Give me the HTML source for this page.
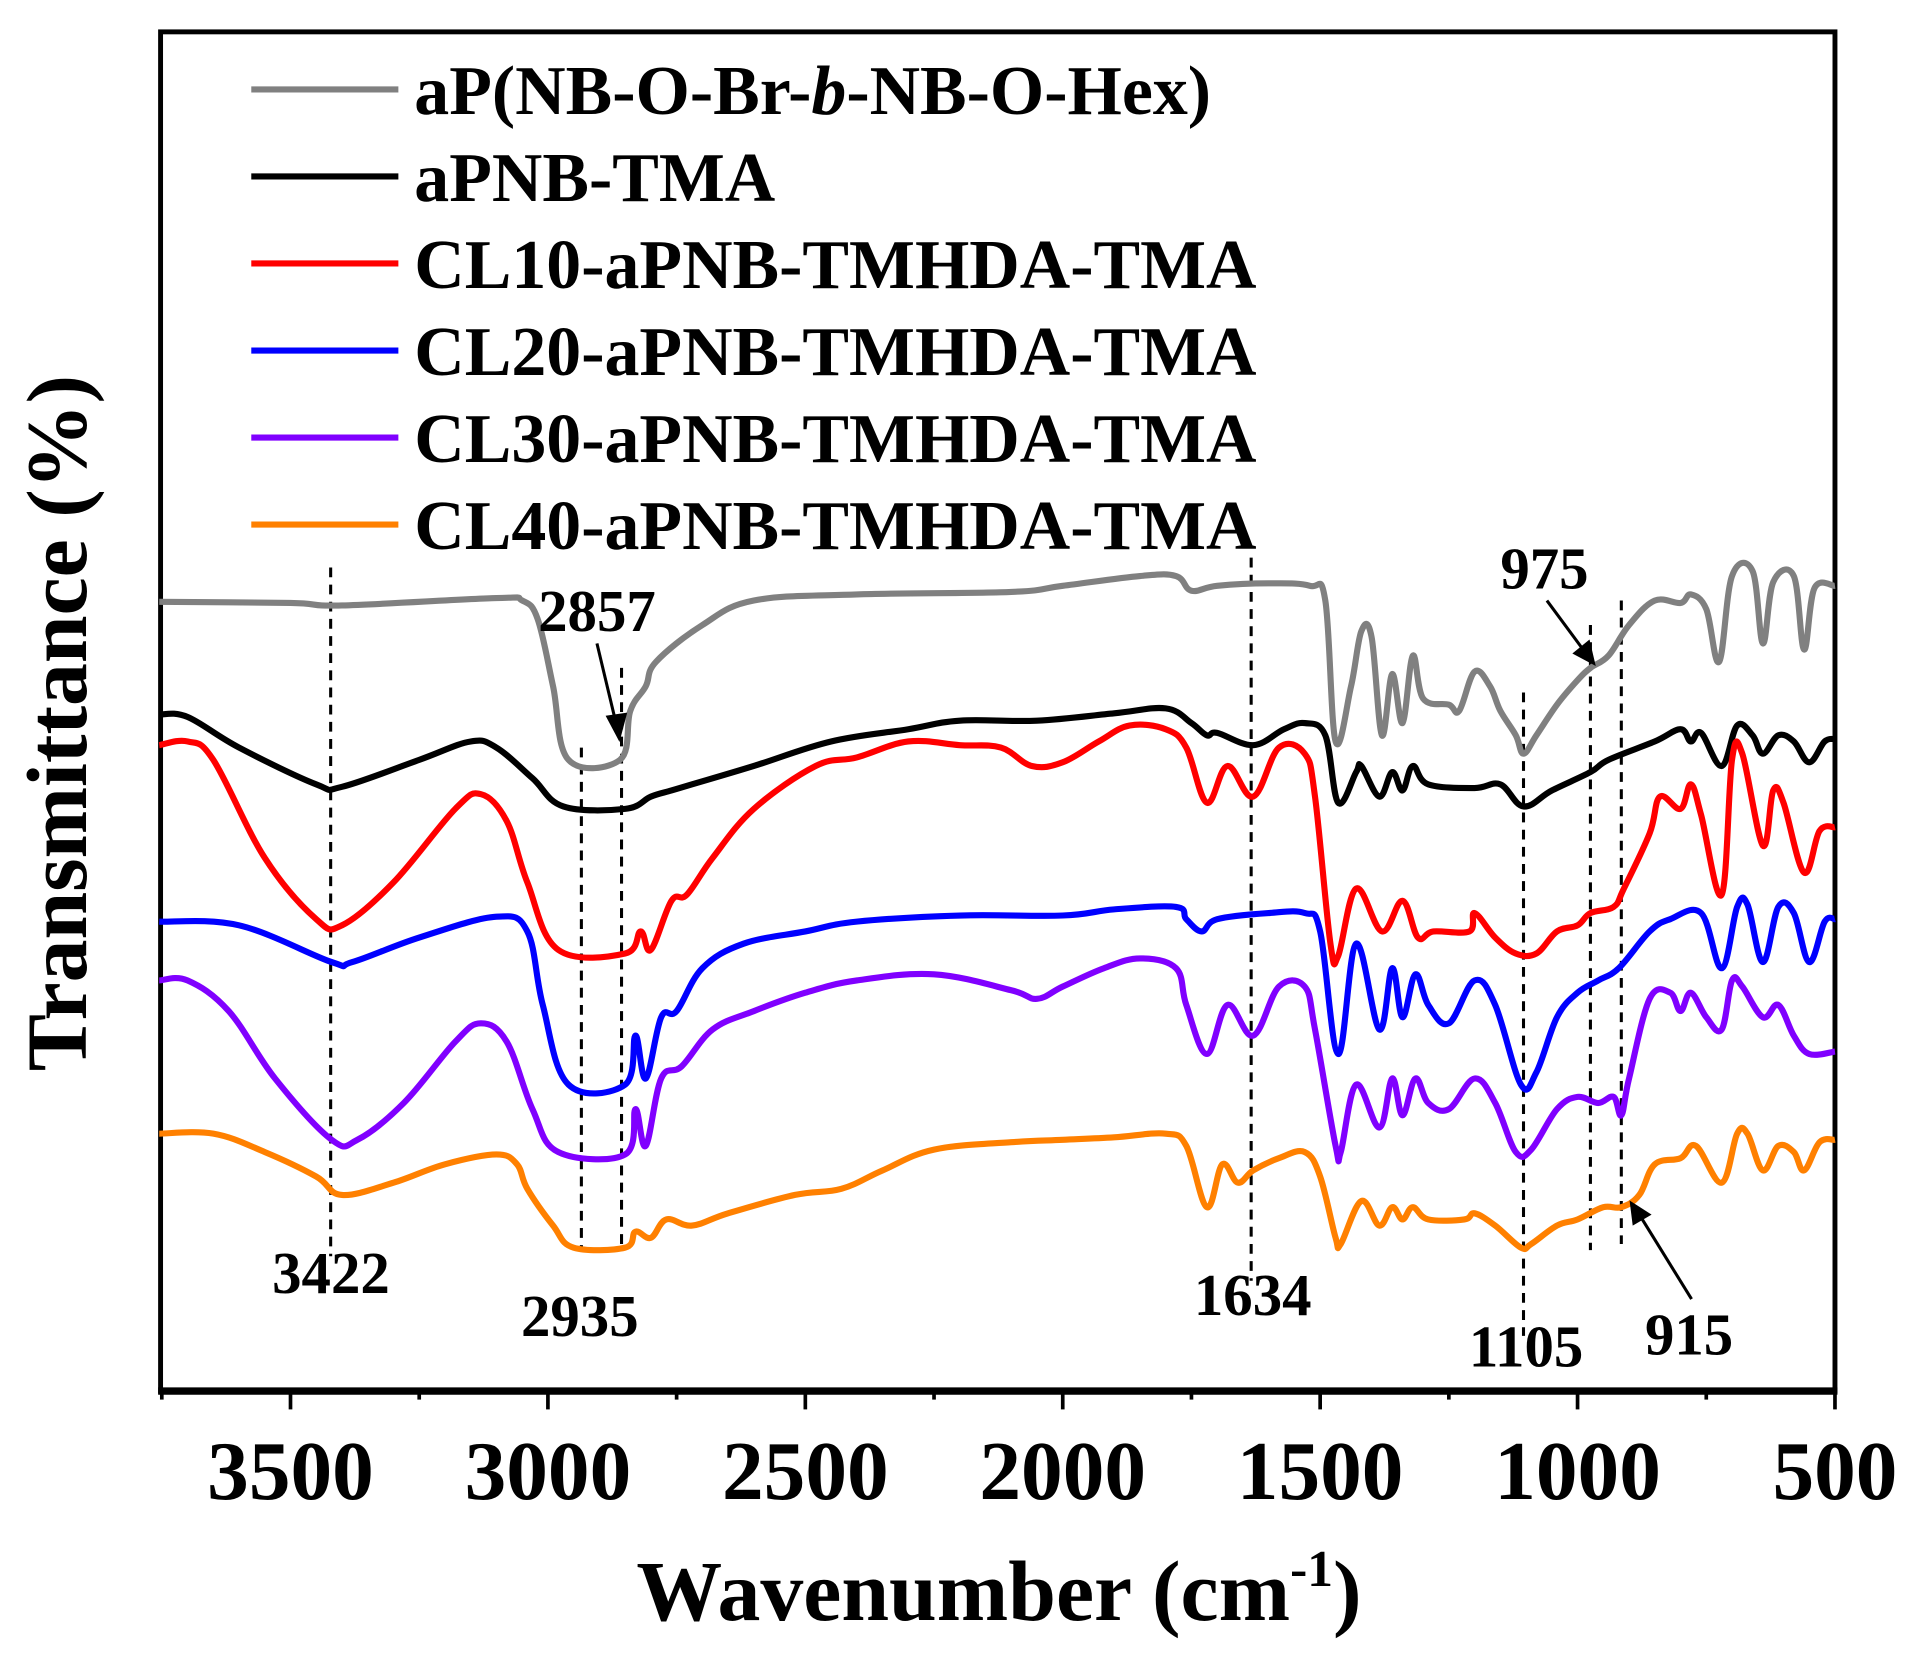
<!DOCTYPE html>
<html><head><meta charset="utf-8"><style>
html,body{margin:0;padding:0;background:#fff;}
svg{display:block;}
text{font-family:"Liberation Serif",serif;font-weight:bold;fill:#000;}
</style></head><body>
<svg id="s" width="1922" height="1668" viewBox="0 0 1568 1361" preserveAspectRatio="none" xmlns="http://www.w3.org/2000/svg">
<rect x="0" y="0" width="1568" height="1361" fill="#fff"/>
<rect x="131" y="26" width="1366" height="1109" fill="none" stroke="#000" stroke-width="4"/>
<line x1="129" y1="1135" x2="1499" y2="1135" stroke="#000" stroke-width="6"/>
<g id="ticks" stroke="#000" stroke-width="3"></g>
<g font-size="68" text-anchor="middle">
<text x="237" y="1223">3500</text><text x="447" y="1223">3000</text><text x="657" y="1223">2500</text>
<text x="867" y="1223">2000</text><text x="1077" y="1223">1500</text><text x="1287" y="1223">1000</text><text x="1497" y="1223">500</text>
</g>
<text x="815" y="1322" font-size="70" text-anchor="middle">Wavenumber (cm<tspan dy="-28" font-size="42">-1</tspan><tspan dy="28">)</tspan></text>
<text transform="translate(70,590) rotate(-90)" font-size="70" text-anchor="middle">Transmittance (%)</text>
<g id="legend" font-size="57"></g>
<g id="dash" stroke="#000" stroke-width="2.5" stroke-dasharray="8,6"></g>
<g id="curves" fill="none" stroke-width="5" stroke-linejoin="round"></g>
<g font-size="48" text-anchor="middle">
<text x="270" y="1055">3422</text><text x="473" y="1090">2935</text><text x="487" y="515">2857</text>
<text x="1022" y="1073">1634</text><text x="1245" y="1115">1105</text><text x="1378" y="1105">915</text><text x="1260" y="480">975</text>
</g>
<g stroke="#000" stroke-width="2.5">
<line x1="487" y1="525" x2="503" y2="592"/><polygon points="505,602 496,585 510,583" fill="#000"/>
<line x1="1262" y1="490" x2="1293" y2="532"/><polygon points="1300,541 1285,533 1296,524" fill="#000"/>
<line x1="1380" y1="1060" x2="1338" y2="992"/><polygon points="1331,982 1345,991 1333,998" fill="#000"/>
</g>
</svg>
<script>
var NS="http://www.w3.org/2000/svg";
function X(w){return 1497-(w-500)*0.42;}
function el(t,a,p){var e=document.createElementNS(NS,t);for(var k in a)e.setAttribute(k,a[k]);document.getElementById(p).appendChild(e);return e;}
for(var w=500;w<=3750;w+=250){var maj=(w%500==0);el("line",{x1:X(w),y1:1135,x2:X(w),y2:maj?1150:1142},"ticks");}
var leg=[["#808080","aP(NB-O-Br-<tspan font-style='italic'>b</tspan>-NB-O-Hex)"],["#000","aPNB-TMA"],["#ff0000","CL10-aPNB-TMHDA-TMA"],["#0000ff","CL20-aPNB-TMHDA-TMA"],["#8000ff","CL30-aPNB-TMHDA-TMA"],["#ff8000","CL40-aPNB-TMHDA-TMA"]];
leg.forEach(function(l,i){var y=73+i*71;el("line",{x1:205,y1:y,x2:325,y2:y,stroke:l[0],"stroke-width":5},"legend");var t=el("text",{x:338,y:y+20},"legend");t.innerHTML=l[1];});
[[3422,463,1025],[2935,610,1020],[2857,545,1020],[1634,455,1045],[1105,565,1090],[975,510,1020],[915,490,1015]].forEach(function(d){el("line",{x1:X(d[0]),y1:d[1],x2:X(d[0]),y2:d[2]},"dash");});
var C={
"#808080":[3755,491,3500,492,3400,494,3100,488,3050,490,3020,505,2990,560,2960,620,2860,620,2840,580,2810,560,2790,540,2700,510,2600,490,2400,485,2100,483,2000,478,1850,470,1780,470,1750,482,1700,478,1600,476,1520,478,1490,490,1470,605,1440,560,1420,515,1400,520,1380,600,1360,550,1340,590,1320,535,1300,570,1250,575,1230,580,1200,548,1170,560,1150,580,1120,600,1105,615,1080,600,1040,575,1000,555,975,545,940,535,900,510,850,490,800,492,780,485,750,497,725,540,700,470,660,466,640,525,620,475,580,470,560,530,540,480,500,478],
"#000000":[3755,583,3700,585,3600,610,3450,640,3400,642,3250,620,3150,605,3100,610,3030,635,2970,658,2850,660,2800,650,2760,645,2720,640,2600,625,2450,605,2300,595,2200,588,2050,588,1900,582,1800,578,1750,590,1720,600,1700,598,1630,608,1570,595,1530,590,1490,600,1465,655,1430,630,1420,625,1385,650,1360,630,1340,645,1320,625,1290,640,1200,643,1150,640,1105,658,1050,645,975,630,940,620,850,605,800,595,780,605,760,598,720,625,690,592,660,600,640,615,610,600,580,605,550,622,520,605,500,603],
"#ff0000":[3755,608,3700,605,3650,620,3550,700,3450,750,3400,755,3300,720,3180,660,3130,648,3080,670,3040,720,2980,775,2850,778,2820,760,2800,775,2760,735,2730,730,2680,700,2600,660,2480,625,2400,618,2300,605,2200,608,2120,610,2060,625,2000,622,1930,605,1870,592,1800,595,1760,610,1720,655,1680,625,1630,650,1580,610,1530,615,1510,650,1480,770,1465,780,1430,725,1380,760,1340,735,1310,765,1280,760,1210,760,1200,745,1160,765,1120,778,1080,778,1040,760,1000,755,975,745,930,740,910,725,860,680,840,650,800,660,780,640,760,665,720,730,700,620,680,615,640,690,620,645,600,655,560,712,530,678,500,675],
"#0000ff":[3755,752,3600,755,3420,785,3380,785,3250,765,3100,748,3040,760,3010,820,2960,885,2850,885,2830,845,2810,880,2780,830,2750,825,2700,790,2620,770,2500,760,2400,752,2200,747,2000,747,1900,742,1780,740,1760,750,1730,760,1700,750,1600,745,1530,745,1500,760,1465,860,1430,770,1385,840,1360,790,1340,830,1315,795,1290,820,1250,835,1200,800,1160,820,1110,885,1080,875,1040,830,1000,810,960,800,920,790,860,760,820,750,760,745,720,790,690,740,670,738,640,785,610,740,580,745,550,785,520,752,500,750],
"#8000ff":[3755,800,3700,800,3620,825,3530,880,3420,930,3370,930,3280,900,3180,850,3130,835,3080,850,3030,905,2980,940,2850,942,2830,905,2810,935,2780,880,2740,870,2680,840,2600,825,2500,810,2400,800,2250,795,2100,808,2050,815,2000,805,1920,790,1850,782,1780,790,1760,820,1720,860,1680,820,1630,845,1580,805,1530,805,1510,840,1470,935,1460,940,1430,885,1385,920,1360,880,1340,910,1315,880,1290,900,1250,905,1200,880,1160,900,1120,940,1090,938,1040,905,1000,895,960,900,930,895,915,910,900,880,860,815,820,810,800,825,780,810,750,830,720,840,700,800,680,805,640,830,610,820,580,845,550,860,500,858],
"#ff8000":[3755,925,3650,925,3550,940,3450,960,3400,975,3300,965,3200,950,3100,942,3060,950,3040,970,2990,1000,2950,1018,2850,1018,2830,1005,2800,1010,2770,995,2720,1000,2650,990,2520,975,2430,970,2350,955,2250,938,2100,932,2000,930,1900,928,1800,925,1760,935,1720,985,1690,950,1660,965,1630,955,1580,945,1530,940,1500,960,1470,1010,1460,1015,1420,980,1385,1000,1360,985,1340,995,1320,985,1290,995,1220,995,1200,990,1160,1000,1110,1018,1090,1015,1040,1000,1000,995,950,985,915,985,880,975,850,950,800,945,770,935,720,965,690,925,670,925,640,955,610,935,580,940,560,955,530,932,500,930]};
for(var c in C){var a=C[c],P=[];for(var i=0;i<a.length;i+=2)P.push([X(a[i]),a[i+1]]);
var d="M"+P[0][0].toFixed(1)+","+P[0][1];
for(var i=0;i<P.length-1;i++){var p0=P[Math.max(0,i-1)],p1=P[i],p2=P[i+1],p3=P[Math.min(P.length-1,i+2)],t=0.18;
var c1x=p1[0]+(p2[0]-p0[0])*t,c1y=p1[1]+(p2[1]-p0[1])*t,c2x=p2[0]-(p3[0]-p1[0])*t,c2y=p2[1]-(p3[1]-p1[1])*t;
d+="C"+c1x.toFixed(1)+","+c1y.toFixed(1)+" "+c2x.toFixed(1)+","+c2y.toFixed(1)+" "+p2[0].toFixed(1)+","+p2[1];}
el("path",{d:d,stroke:c},"curves");}
</script>
</body></html>
